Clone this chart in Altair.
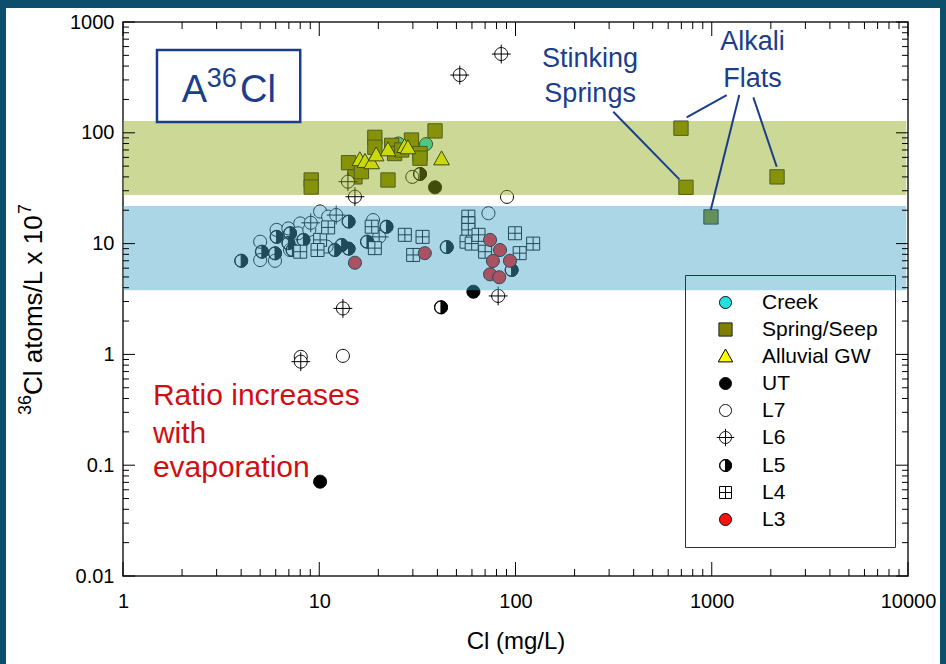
import altair as alt
import pandas as pd

# ---------------- data ----------------
types = ["Creek", "Spring/Seep", "Alluvial GW", "UT", "L7", "L6", "L5", "L4", "L3"]

creek_cl = [25.3, 35.0]
creek_r = [80, 79]

spring_cl = [9.1, 9.1, 14.1, 15.2, 16.4, 19.2, 19.2, 22.4, 23.4, 24.2, 26.3, 29.5, 32.6, 32.6, 38.9,
             697, 739, 2151, 991]
spring_r = [37.5, 32.4, 53.7, 40, 44.6, 91, 74, 37.5, 77, 65, 70, 86, 65, 59, 104,
            110, 32.2, 40, 17.4]

alluvial_cl = [16.1, 17.1, 18.5, 19.5, 22.4, 27.2, 28.3, 42.0]
alluvial_r = [57, 55, 53.5, 63, 70, 75, 73, 58]

ut_cl = [10.1, 61, 38.9]
ut_r = [0.071, 3.68, 32.2]

l7_cl = [13.2, 8.05, 90.5, 29.8, 5.0, 5.0, 6.06, 5.95, 6.96, 8.0, 7.8, 8.9, 10.1, 11.1, 10.9, 18.8, 72.8, 7.1]
l7_r = [0.97, 0.95, 26.4, 40, 10.4, 7.1, 13.3, 7.0, 13.7, 15.2, 12.4, 13.3, 19.5, 17.5, 9.4, 16.3, 18.8, 8.75]

l6_cl = [52, 84.6, 14.0, 15.2, 13.2, 8.05, 81.6, 9.05, 12.2, 20.2]
l6_r = [332, 514, 36.2, 26.5, 2.6, 0.86, 3.37, 15.4, 18.1, 11.5]

l5_cl = [41.7, 4.0, 5.1, 6.06, 5.95, 7.1, 6.96, 8.3, 14.1, 12.0, 13.0, 14.1, 22.0, 17.5, 44.6, 95.5, 32.6, 7.3]
l5_r = [2.66, 7.0, 8.45, 11.5, 8.17, 12.4, 10.1, 10.8, 15.8, 8.75, 9.7, 9.0, 14.2, 10.4, 9.3, 5.78, 42.5, 8.75]

l4_cl = [8.0, 10.1, 11.1, 18.5, 19.2, 27.3, 30.1, 33.6, 57.5, 57.5, 57.5, 56.3, 59.8, 64.8, 70, 99.4, 105, 123, 9.8]
l4_r = [8.45, 10.8, 14.0, 14.2, 9.1, 12.0, 7.9, 11.5, 17.5, 15.2, 13.3, 10.4, 10.0, 12.0, 8.45, 12.4, 8.2, 10.0, 8.75]

l3_cl = [15.2, 34.5, 74.2, 83.4, 76.7, 93.7, 74.2, 82.6]
l3_r = [6.72, 8.2, 10.8, 8.75, 6.97, 7.0, 5.28, 4.97]

series = {
    "Creek": (creek_cl, creek_r),
    "Spring/Seep": (spring_cl, spring_r),
    "Alluvial GW": (alluvial_cl, alluvial_r),
    "UT": (ut_cl, ut_r),
    "L7": (l7_cl, l7_r),
    "L6": (l6_cl, l6_r),
    "L5": (l5_cl, l5_r),
    "L4": (l4_cl, l4_r),
    "L3": (l3_cl, l3_r),
}

# range bands (36Cl/L x 1e7)
band_lo = [27.4, 3.8]
band_hi = [128, 21.8]
band_color = ["#8ca916", "#43a4c8"]
band_x0 = [1, 1]
band_x1 = [9800, 9800]

# axis ticks
x_major = [1, 10, 100, 1000, 10000]
y_major = [0.01, 0.1, 1, 10, 100, 1000]
x_minor = [m * 10 ** e for e in range(0, 4) for m in range(2, 10)]
y_minor = [round(m * 10.0 ** e, 4) for e in range(-2, 3) for m in range(2, 10)]

# ---------------- styles ----------------
CIRCLE = "M0,-1A1,1 0 1,1 0,1A1,1 0 1,1 0,-1Z"
SQUARE = "M-1.1,-1.1H1.1V1.1H-1.1Z"
TRI = "M0,-1.25L1.2,0.9H-1.2Z"
CROSS_CIRCLE = CIRCLE + "M-1.45,0H1.45M0,-1.45V1.45"
HALF = CIRCLE + "M0,-0.94A0.94,0.94 0 1,0 0,0.94A0.94,0.94 0 1,0 0,-0.94Z" + "M0,-1A1,1 0 0,1 0,1Z"
GRID_SQ = "M-1,-1H1V1H-1ZM0,-1V1M-1,0H1"

shapes = [CIRCLE, SQUARE, TRI, CIRCLE, CIRCLE, CROSS_CIRCLE, HALF, GRID_SQ, CIRCLE]
fills = ["#22e0e0", "#808000", "#ffff00", "#000000", "#ffffff", "#ffffff", "#000000", "#ffffff", "#ff1010"]
strokes = ["#000000", "#222222", "#000000", "#000000", "#000000", "#000000", "#000000", "#000000", "#000000"]

rows = []
for t in types:
    xs, ys = series[t]
    for a, b in zip(xs, ys):
        rows.append({"Cl": a, "ratio": b, "type": t})
df = pd.DataFrame(rows)

W, H = 785, 554
xscale = alt.Scale(type="log", domain=[1, 10000], nice=False)
yscale = alt.Scale(type="log", domain=[0.01, 1000], nice=False)
FONT = "Liberation Sans"
NAVY = "#1b3d8c"

XTITLE = "Cl (mg/L)"
xaxis = alt.Axis(values=x_major, labelExpr="format(datum.value, 'd')", labelFlush=False,
                 labelPadding=15, titlePadding=18, title=XTITLE)
yaxis = alt.Axis(values=y_major,
                 labelExpr="datum.value < 1 ? format(datum.value, '.2~f') : format(datum.value, 'd')",
                 labelFlush=False, labelPadding=9, title="")


def X(field):
    return alt.X(field, scale=xscale, axis=xaxis, title=XTITLE)


def Y(field):
    return alt.Y(field, scale=yscale, axis=yaxis, title="")


legend = alt.Legend(
    orient="none", legendX=562, legendY=253, title=None,
    labelFont=FONT, labelFontSize=21, labelColor="black",
    symbolSize=144, symbolStrokeWidth=1,
    symbolOffset=13, labelOffset=26, rowPadding=5, padding=17,
    strokeColor="#333333",
)

points = alt.Chart(df).mark_point(filled=True, size=169, strokeWidth=1, opacity=1).encode(
    x=X("Cl:Q"),
    y=Y("ratio:Q"),
    shape=alt.Shape("type:N", scale=alt.Scale(domain=types, range=shapes), legend=legend),
    fill=alt.Fill("type:N", scale=alt.Scale(domain=types, range=fills), legend=legend),
    stroke=alt.Stroke("type:N", scale=alt.Scale(domain=types, range=strokes), legend=legend),
    order=alt.Order("idx:Q"),
).transform_window(idx="row_number()")

band_df = pd.DataFrame({"x0": band_x0, "x1": band_x1, "lo": band_lo, "hi": band_hi, "c": band_color})
bands = alt.Chart(band_df).mark_rect(opacity=0.45).encode(
    x=X("x0:Q"), x2="x1:Q",
    y=Y("lo:Q"), y2="hi:Q",
    color=alt.Color("c:N", scale=None),
)


def xticks(vals, length):
    d = pd.DataFrame({"v": vals})
    b = alt.Chart(d).mark_rule(color="black", strokeWidth=1)
    return [
        b.encode(x=X("v:Q"), y=alt.value(H), y2=alt.value(H - length)),
        b.encode(x=X("v:Q"), y=alt.value(0), y2=alt.value(length)),
    ]


def yticks(vals, length):
    d = pd.DataFrame({"v": vals})
    b = alt.Chart(d).mark_rule(color="black", strokeWidth=1)
    return [
        b.encode(y=Y("v:Q"), x=alt.value(0), x2=alt.value(length)),
        b.encode(y=Y("v:Q"), x=alt.value(W), x2=alt.value(W - length)),
    ]


ticks = xticks(x_major, 14) + xticks(x_minor, 7) + yticks(y_major, 12) + yticks(y_minor, 6)


# annotations
def text_layer(xs, ys, texts, size, color, align="center", font=FONT):
    d = pd.DataFrame({"x": xs, "y": ys, "t": texts})
    return alt.Chart(d).mark_text(font=font, fontSize=size, color=color, align=align,
                                  baseline="alphabetic").encode(
        x=X("x:Q"),
        y=Y("y:Q"),
        text="t:N",
    )


lbl_text = ["Stinking", "Springs", "Alkali", "Flats"]
lbl_x = [240, 240, 1614, 1614]
lbl_y = [395, 191, 559, 261]
labels = text_layer(lbl_x, lbl_y, lbl_text, 27, NAVY)

red_text = ["Ratio increases", "with", "evaporation"]
red_x = [1.42, 1.42, 1.42]
red_y = [0.349, 0.158, 0.078]
red = text_layer(red_x, red_y, red_text, 30, "#d01010", align="left")

title_big = text_layer([1.99, 3.95], [191, 191], ["A", "Cl"], 38, NAVY, align="left")
title_sup = text_layer([2.67], [261], ["36"], 27, NAVY, align="left")

box_df = pd.DataFrame({"x0": [1.49], "x1": [8.0], "y0": [125], "y1": [560]})
box = alt.Chart(box_df).mark_rect(fill="white", stroke=NAVY, strokeWidth=2.5).encode(
    x=X("x0:Q"), x2="x1:Q",
    y=Y("y0:Q"), y2="y1:Q",
)

# leader lines: from label to point
lead_x0 = [315, 1192, 1381, 1629]
lead_y0 = [155, 219, 219, 209]
lead_x1 = [684, 745, 988, 2143]
lead_y1 = [38, 138, 20.1, 49.4]
lead_df = pd.DataFrame({"x0": lead_x0, "y0": lead_y0, "x1": lead_x1, "y1": lead_y1})
leaders = alt.Chart(lead_df).mark_rule(color=NAVY, strokeWidth=2).encode(
    x=X("x0:Q"), x2="x1:Q",
    y=Y("y0:Q"), y2="y1:Q",
)

# y-axis title with true superscripts (rotated text pieces)
one = pd.DataFrame({"a": [0]})
ytitle = [
    alt.Chart(one).mark_text(text="36", font=FONT, fontSize=18, angle=270, align="left",
                             baseline="alphabetic", color="black").encode(x=alt.value(-92), y=alt.value(393)),
    alt.Chart(one).mark_text(text="Cl atoms/L x 10", font=FONT, fontSize=26, angle=270, align="left",
                             baseline="alphabetic", color="black").encode(x=alt.value(-81), y=alt.value(373)),
    alt.Chart(one).mark_text(text="7", font=FONT, fontSize=18, angle=270, align="left",
                             baseline="alphabetic", color="black").encode(x=alt.value(-92), y=alt.value(192)),
]

# decorative page frame (slide border)
FRAME = "#0b4f6c"
frame = [
    alt.Chart(one).mark_rect(color=FRAME).encode(x=alt.value(-123), x2=alt.value(-117), y=alt.value(-22), y2=alt.value(642)),
    alt.Chart(one).mark_rect(color=FRAME).encode(x=alt.value(-123), x2=alt.value(823), y=alt.value(-22), y2=alt.value(-14)),
    alt.Chart(one).mark_rect(color=FRAME).encode(x=alt.value(817), x2=alt.value(823), y=alt.value(-22), y2=alt.value(642)),
]

chart = alt.layer(
    points, bands, *ticks, box, title_big, title_sup, labels, leaders, red, *ytitle, *frame
).properties(
    width=W, height=H,
    padding={"left": 123, "top": 22, "right": 38, "bottom": 88},
    autosize=alt.AutoSizeParams(type="none"),
    background="white",
).configure_view(
    stroke="#222222", strokeWidth=1.5
).configure_axis(
    labelFont=FONT, labelFontSize=20, labelColor="black",
    titleFont=FONT, titleFontSize=24, titleFontWeight="normal", titleColor="black",
    ticks=False, domain=False, grid=False,
)

chart.save("out.html", embed_options={"renderer": "svg", "actions": False})
